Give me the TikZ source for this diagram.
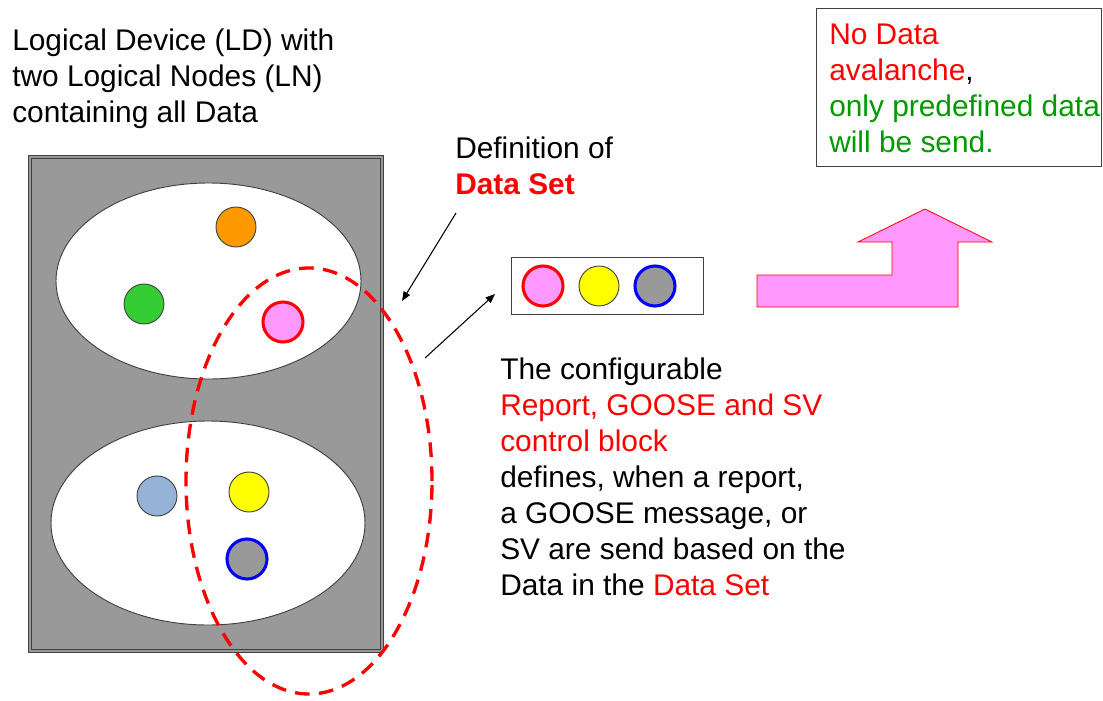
\documentclass[tikz,border=0pt]{standalone}
\usepackage{fontspec}
\setmainfont{Liberation Sans}
\usetikzlibrary{shapes.geometric,arrows.meta}
\definecolor{ldgray}{HTML}{999999}
\definecolor{edgegray}{HTML}{404040}
\definecolor{txtred}{HTML}{FF0000}
\definecolor{txtgreen}{HTML}{009A00}
\definecolor{dotorange}{HTML}{FF9900}
\definecolor{dotgreen}{HTML}{33CC33}
\definecolor{dotpink}{HTML}{FF99FF}
\definecolor{dotblue}{HTML}{95B3D7}
\definecolor{dotyellow}{HTML}{FFFF00}
\definecolor{dotgray}{HTML}{999999}
\definecolor{ringblue}{HTML}{0000FF}
\begin{document}
\begin{tikzpicture}[x=0.75pt,y=-0.75pt,
  txt/.style={font=\fontsize{22.4}{27}\selectfont, inner sep=0pt, align=left, anchor=north west},
  dot/.style={circle, draw=edgegray, line width=0.7pt, minimum size=30pt, inner sep=0pt},
  ring/.style={circle, line width=2.3pt, minimum size=30pt, inner sep=0pt},
  lnode/.style={ellipse, draw=edgegray, line width=0.7pt, fill=white, inner sep=0pt},
  pointer/.style={draw=black, line width=0.8pt, -{Triangle[length=7pt,width=5.5pt]}}]
\useasboundingbox (0,0) rectangle (1103,700);

% Logical device
\node[draw=edgegray, line width=0.7pt, double=ldgray, double distance=2pt, fill=ldgray,
      minimum width=352*0.75pt, minimum height=494*0.75pt, inner sep=0pt] (ld) at (206,404) {};
\node[lnode, minimum width=305*0.75pt, minimum height=196*0.75pt] (ln1) at (208.5,281) {};
\node[lnode, minimum width=314*0.75pt, minimum height=204*0.75pt] (ln2) at (208,523) {};

% data in LN1
\node[dot, fill=dotorange] (d1) at (236,227) {};
\node[dot, fill=dotgreen] (d2) at (144,304) {};
\node[ring, draw=txtred, fill=dotpink] (d3) at (283,322) {};
% data in LN2
\node[dot, fill=dotblue] (d4) at (157,496) {};
\node[dot, fill=dotyellow] (d5) at (249,492) {};
\node[ring, draw=ringblue, fill=dotgray] (d6) at (247,559) {};

% dashed data set selection
\node[ellipse, draw=txtred, line width=2.5pt, dash pattern=on 11pt off 7pt,
      minimum width=246*0.75pt, minimum height=426*0.75pt, inner sep=0pt] (sel) at (309,481) {};

% data set box
\node[draw=edgegray, line width=0.7pt, minimum width=192*0.75pt, minimum height=57*0.75pt, inner sep=0pt] (ds) at (607,285.5) {};
\node[ring, draw=txtred, fill=dotpink] (s1) at (543,286) {};
\node[dot, fill=dotyellow] (s2) at (599,286) {};
\node[ring, draw=ringblue, fill=dotgray] (s3) at (655,286) {};

% texts
\node[txt] (tld) at (12,29) {Logical Device (LD) with\\two Logical Nodes (LN)\\containing all Data};
\node[txt] (tdef) at (455,137) {Definition of\\\textcolor{txtred}{\bfseries Data Set}};
\node[txt] (tcb) at (500,358) {The configurable\\\textcolor{txtred}{Report, GOOSE and SV}\\\textcolor{txtred}{control block}\\defines, when a report,\\a GOOSE message, or\\SV are send based on the\\Data in the \textcolor{txtred}{Data Set}};

% note box
\node[draw=edgegray, line width=0.7pt, minimum width=285*0.75pt, minimum height=158*0.75pt, inner sep=0pt] (note) at (958.5,87) {};
\node[txt] (tnote) at (829,24) {\textcolor{txtred}{No Data}\\\textcolor{txtred}{avalanche},\\\textcolor{txtgreen}{only predefined data}\\\textcolor{txtgreen}{will be send.}};

% pointers
\coordinate (a1s) at (456,213);
\coordinate (a1e) at (402,301);
\coordinate (a2s) at (425,358);
\coordinate (a2e) at (495,294);
\draw[pointer] (a1s) -- (a1e);
\draw[pointer] (a2s) -- (a2e);

% big pink arrow
\draw[draw=txtred, line width=0.6pt, fill=dotpink]
  (757,275) -- (892,275) -- (892,242) -- (858,242) -- (925,209) -- (992,242)
  -- (958,242) -- (958,307) -- (757,307) -- cycle;
\end{tikzpicture}
\end{document}
